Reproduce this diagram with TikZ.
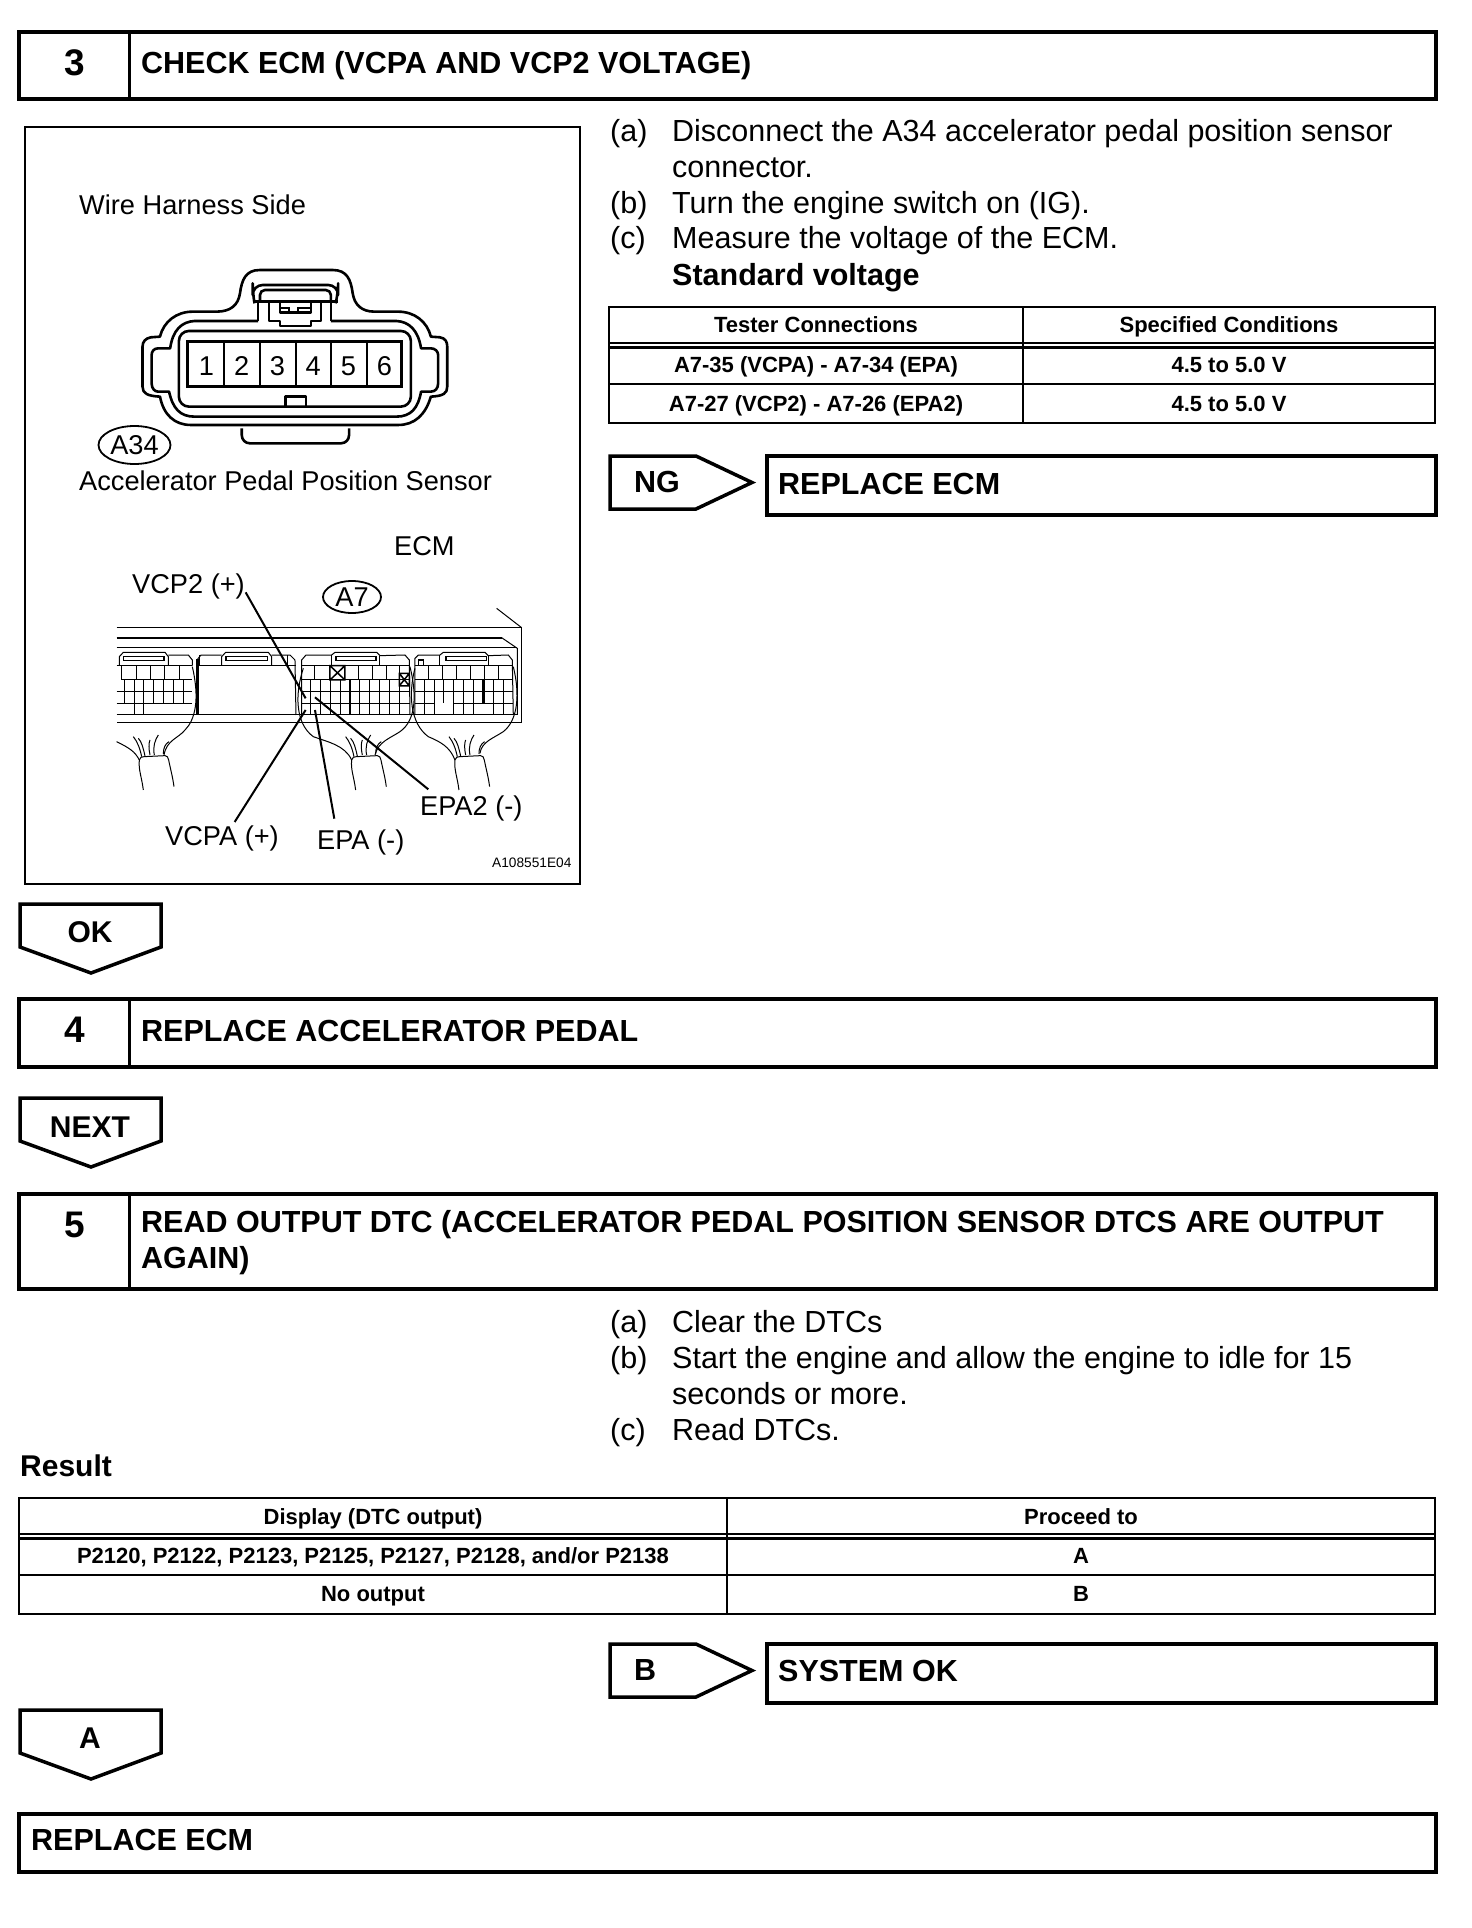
\documentclass[tikz,border=0pt]{standalone}
\usepackage{fontspec}
\setmainfont{Liberation Sans}
\newcommand{\fsz}[1]{\fontsize{#1}{#1}\selectfont}
\tikzset{
 lab/.style={anchor=base west,inner sep=0pt,font=\fsz{27.2}},
 body/.style={anchor=base west,inner sep=0pt,font=\fsz{30.5}},
 boldt/.style={anchor=base west,inner sep=0pt,font=\fsz{30.5}\bfseries},
 boldc/.style={anchor=base,inner sep=0pt,font=\fsz{30}\bfseries},
 numt/.style={anchor=base,inner sep=0pt,font=\fsz{37}\bfseries},
 cellt/.style={anchor=base,inner sep=0pt,font=\fsz{22}\bfseries},
 hbox/.style={draw,line width=4pt},
 tline/.style={draw,line width=2.5pt},
 arrowbox/.style={draw,line width=3.5pt,miter limit=10},
 thin1/.style={line width=1pt},
 conn/.style={line width=2.6pt,line join=round},
 lead/.style={line width=2pt},
 tag/.style={draw,ellipse,line width=1.8pt,inner sep=0pt,minimum width=#1},
}
\usetikzlibrary{shapes.geometric}
\newcommand{\downtag}[3]{% top, shoulder, tip
 \draw[arrowbox] (20,#1) -- (161,#1) -- (161,#2) -- (91,#3) -- (20,#2) -- cycle;}
\newcommand{\righttag}[2]{% top, bottom
 \draw[arrowbox] (610,#1) -- (696,#1) -- (752,{(#1+#2)/2}) -- (696,#2) -- (610,#2) -- cycle;}
\newcommand{\bundle}[1]{%
 \begin{scope}[xshift=#1*0.3333pt]
 \draw[thin1] (118,600) .. controls (115,630) and (125,650) .. (130,690);
 \draw[thin1] (118,600) .. controls (120,592) and (125,590) .. (132,590) -- (195,587) .. controls (202,587) and (204,592) .. (206,600) .. controls (212,630) and (218,650) .. (222,680);
 \draw[thin1] (125,590) .. controls (120,565) and (112,545) .. (100,530);
 \draw[thin1] (135,588) .. controls (130,565) and (125,545) .. (115,535);
 \draw[thin1] (150,585) .. controls (146,565) and (146,550) .. (150,540);
 \draw[thin1] (163,585) .. controls (158,560) and (165,540) .. (175,525);
 \draw[thin1] (190,582) .. controls (190,565) and (195,552) .. (207,545);
 \end{scope}}
\begin{document}
\begin{tikzpicture}[x=1pt,y=-1pt]
\useasboundingbox[fill=white] (0,0) rectangle (1472,1928);

% step 3
\draw[hbox] (19,32) rectangle (1436,99);
\draw[line width=3pt] (129,32) -- (129,99);
\node[numt] (n3) at (75,75) {3};
\node[boldt] (t3) at (141,73) {CHECK ECM (VCPA AND VCP2 VOLTAGE)};

% figure frame
\draw[line width=2.5pt] (25,127) rectangle (580,884);
\node[lab] (wh) at (79,214) {Wire Harness Side};
\node[lab] (aps) at (79,490) {Accelerator Pedal Position Sensor};
\node[tag=72pt,minimum height=38pt,font=\fsz{27.2}] (a34) at (134.5,445) {A34};
\node[lab] (ecm) at (394,555) {ECM};
\node[lab] (vcp2) at (132,593) {VCP2 (+)};
\node[tag=58pt,minimum height=32pt,font=\fsz{27.2}] (a7) at (352,597) {A7};
\node[lab] (epa2) at (420,815) {EPA2 (-)};
\node[lab] (vcpa) at (165,845) {VCPA (+)};
\node[lab] (epa) at (317,849) {EPA (-)};
\node[anchor=base west,inner sep=0pt,font=\fsz{13.7}] (code) at (492,867) {A108551E04};

% connector A34
\begin{scope}[shift={(20,120)},x=0.3636pt,y=-0.3333pt]
 \draw[conn] (660,450) -- (860,450) .. controls (900,450) and (910,480) .. (915,520) .. controls (920,555) and (940,575) .. (975,575) -- (1040,575) .. controls (1085,575) and (1120,605) .. (1130,650) -- (1155,652) .. controls (1170,655) and (1175,665) .. (1175,680) -- (1175,800) .. controls (1175,820) and (1165,828) .. (1130,830) .. controls (1115,885) and (1085,915) .. (1040,915) -- (470,915) .. controls (425,915) and (395,885) .. (385,830) .. controls (350,828) and (337,820) .. (337,800) -- (337,680) .. controls (337,665) and (345,655) .. (360,652) -- (385,650) .. controls (395,605) and (430,575) .. (475,575) -- (540,575) .. controls (580,575) and (600,555) .. (605,520) .. controls (610,480) and (620,450) .. (660,450);
 \draw[conn] (655,603) -- (480,603) .. controls (445,605) and (420,630) .. (413,685) -- (380,685) .. controls (368,685) and (362,695) .. (362,705) -- (362,790) .. controls (362,805) and (370,815) .. (380,815) -- (410,815) .. controls (420,865) and (440,890) .. (480,890) -- (1035,890) .. controls (1075,890) and (1095,865) .. (1103,815) -- (1130,815) .. controls (1142,815) and (1150,805) .. (1150,790) -- (1150,705) .. controls (1150,695) and (1142,685) .. (1130,685) -- (1103,685) .. controls (1095,630) and (1070,605) .. (1035,603) -- (855,603);
 \draw[conn,rounded corners=10pt] (437,633) rectangle (1075,860);
 \draw[line width=3pt] (462,665) rectangle (1050,800);
 \foreach \q in {560,660,760,855,955} \draw[line width=2pt] (\q,665) -- (\q,800);
 \foreach \q/\w in {513/1,610/2,708/3,806/4,903/5,1002/6}
   \node[inner sep=0pt,font=\fsz{27.2}] (pin\w) at (\q,738) {\w};
 \draw[conn] (730,860) -- (730,830) -- (787,830) -- (787,860);
 \draw[conn,rounded corners=8pt] (610,925) -- (610,970) -- (905,970) -- (905,925);
 \draw[conn,rounded corners=10pt] (645,550) -- (640,520) -- (640,495) -- (875,495) -- (875,520) -- (868,550);
 \draw[conn,rounded corners=5pt] (660,545) -- (660,510) -- (855,510) -- (855,545);
 \draw[conn] (640,545) -- (875,545);
 \draw[conn] (655,545) -- (655,603);
 \draw[conn] (855,545) -- (855,603);
 \draw[conn] (685,545) -- (685,603) -- (715,603) -- (715,618) -- (800,618) -- (800,603) -- (828,603) -- (828,545);
 \draw[conn] (715,545) -- (715,578) -- (800,578) -- (800,545);
 \draw[line width=1.8pt] (715,565) -- (740,565) -- (740,578);
 \draw[line width=1.8pt] (765,578) -- (765,565) -- (800,565);
\end{scope}

% ECM
\begin{scope}[shift={(100,560)},x=0.3333pt,y=-0.3333pt]
 % housing
 \draw[thin1] (50,203) -- (1265,203) -- (1265,487) -- (50,487);
 \draw[thin1] (1190,145) -- (1265,203);
 \draw[line width=2pt] (50,233) -- (1205,233);
 \draw[thin1] (1205,233) -- (1252,265) -- (1252,465);
 \draw[thin1] (50,465) -- (1252,465);
 \draw[thin1] (50,262) -- (1252,262);
 % section 1
 \draw[thin1] (58,317) -- (58,290) -- (70,277) -- (195,277) -- (205,290) -- (205,317);
 \draw[line width=1.6pt] (70,290) rectangle (192,302);
 \draw[thin1] (205,285) -- (265,285) -- (277,300) -- (277,317);
 \draw[thin1] (50,317) -- (277,317);
 \foreach \q in {65,110,152,195,238} \draw[thin1] (\q,317) -- (\q,360);
 \draw[thin1] (65,360) -- (275,360);
 \draw[thin1] (50,395) -- (275,395);
 \draw[thin1] (50,430) -- (275,430);
 \foreach \q in {75,103,130,160,190,220,250} \draw[thin1] (\q,360) -- (\q,430);
 \foreach \q in {103,130} \draw[thin1] (\q,430) -- (\q,465);
 \draw[thin1] (277,320) .. controls (300,420) and (285,480) .. (255,510) .. controls (235,535) and (200,540) .. (192,585);
 \draw[thin1] (50,545) .. controls (90,565) and (105,575) .. (118,600);
 % section 2
 \draw[line width=2.5pt] (293,297) -- (293,465);
 \draw[thin1] (293,297) -- (303,285) -- (365,285);
 \draw[thin1] (300,285) -- (300,317);
 \draw[thin1] (365,317) -- (365,290) -- (377,277) -- (505,277) -- (515,290) -- (515,317);
 \draw[line width=1.6pt] (378,290) rectangle (503,302);
 \draw[thin1] (515,285) -- (570,285) -- (585,300) -- (588,465);
 \draw[thin1] (562,285) -- (562,317);
 \draw[thin1] (300,317) -- (587,317);
 % section 3
 \draw[thin1] (605,465) -- (605,300) -- (618,285) -- (695,285) -- (705,277) -- (830,277) -- (840,287) -- (915,285) -- (928,300) -- (930,465);
 \draw[thin1] (695,285) -- (695,317);
 \draw[thin1] (840,287) -- (840,317);
 \draw[line width=1.6pt] (708,290) rectangle (828,302);
 \draw[thin1] (605,317) -- (928,317);
 \foreach \q in {645,735,775,817,860} \draw[thin1] (\q,317) -- (\q,360);
 \draw[line width=1.5pt] (690,317) rectangle (735,360) (690,360) -- (735,317) (690,317) -- (735,360);
 \draw[line width=1.5pt] (898,340) rectangle (928,378) (898,340) -- (928,378) (898,378) -- (928,340);
 \draw[thin1] (898,317) -- (898,340);
 \draw[thin1] (605,360) -- (930,360);
 \draw[thin1] (605,395) -- (930,395);
 \draw[thin1] (605,430) -- (930,430);
 \foreach \q in {633,662,693,722,780,810,840,870,900} \draw[thin1] (\q,360) -- (\q,465);
 \draw[line width=2.5pt] (750,360) -- (750,465);
 \draw[thin1] (610,325) .. controls (585,400) and (585,490) .. (640,530) .. controls (680,545) and (735,555) .. (755,600);
 \draw[thin1] (930,320) .. controls (950,400) and (950,480) .. (900,515) .. controls (870,535) and (835,545) .. (825,585);
 % section 4
 \draw[thin1] (945,465) -- (945,295) -- (955,285) -- (1020,285) -- (1030,277) -- (1155,277) -- (1165,287) -- (1225,285) -- (1237,300) -- (1240,465);
 \draw[thin1] (1020,285) -- (1020,317);
 \draw[thin1] (1165,287) -- (1165,317);
 \draw[line width=1.6pt] (1038,290) rectangle (1160,302);
 \draw[line width=1.6pt] (955,300) rectangle (970,317);
 \draw[thin1] (945,317) -- (1240,317);
 \foreach \q in {985,1028,1070,1112,1153,1195} \draw[thin1] (\q,317) -- (\q,360);
 \draw[thin1] (945,360) -- (1240,360);
 \draw[thin1] (945,395) -- (1240,395);
 \draw[thin1] (945,430) -- (1005,430) (1060,430) -- (1240,430);
 \foreach \q in {975,1005,1030,1060,1090,1120,1180,1210} \draw[thin1] (\q,360) -- (\q,430);
 \foreach \q in {975,1005,1060,1090,1120,1180,1210} \draw[thin1] (\q,430) -- (\q,465);
 \draw[line width=2.5pt] (1150,360) -- (1150,430);
 \draw[thin1] (945,325) .. controls (925,400) and (930,490) .. (985,530) .. controls (1020,545) and (1050,560) .. (1065,600);
 \draw[thin1] (1240,320) .. controls (1260,400) and (1255,480) .. (1210,515) .. controls (1180,535) and (1145,545) .. (1140,580);
 \bundle{0}\bundle{637}\bundle{947}
 % leader ends
 \coordinate (v2a) at (437,97);
 \coordinate (v2b) at (617,415);
 \coordinate (vpa) at (404,786);
 \coordinate (vpb) at (617,450);
 \coordinate (epaa) at (703,776);
 \coordinate (epab) at (645,450);
 \coordinate (ep2a) at (985,688);
 \coordinate (ep2b) at (645,412);
\end{scope}
\draw[lead] (v2a) -- (v2b);
\draw[lead] (vpa) -- (vpb);
\draw[lead] (epaa) -- (epab);
\draw[lead] (ep2a) -- (ep2b);

% right text
\node[body] (a1) at (610,141) {(a)};
\node[body] (a1t) at (672,141) {Disconnect the A34 accelerator pedal position sensor};
\node[body] (a1u) at (672,177) {connector.};
\node[body] (b1) at (610,213) {(b)};
\node[body] (b1t) at (672,213) {Turn the engine switch on (IG).};
\node[body] (c1) at (610,248.5) {(c)};
\node[body] (c1t) at (672,248.5) {Measure the voltage of the ECM.};
\node[boldt] (sv) at (672,285) {Standard voltage};

% table 1
\draw[tline] (609,307) rectangle (1435,423);
\draw[tline] (1023,307) -- (1023,423);
\draw[tline] (609,343) -- (1435,343);
\draw[tline] (609,347.5) -- (1435,347.5);
\draw[tline] (609,384) -- (1435,384);
\node[cellt] (h11) at (816,332) {Tester Connections};
\node[cellt] (h12) at (1229,332) {Specified Conditions};
\node[cellt] (c11) at (816,372) {A7-35 (VCPA) - A7-34 (EPA)};
\node[cellt] (c12) at (1229,372) {4.5 to 5.0 V};
\node[cellt] (c21) at (816,411) {A7-27 (VCP2) - A7-26 (EPA2)};
\node[cellt] (c22) at (1229,411) {4.5 to 5.0 V};

% NG
\righttag{456}{509}
\node[boldt] (ng) at (634,492) {NG};
\draw[hbox] (767,456) rectangle (1436,515);
\node[boldt] (rep1) at (778,494) {REPLACE ECM};

% OK
\downtag{904}{947}{973}
\node[boldc] (ok) at (90,942) {OK};

% step 4
\draw[hbox] (19,999) rectangle (1436,1067);
\draw[line width=3pt] (129,999) -- (129,1067);
\node[numt] (n4) at (75,1042) {4};
\node[boldt] (t4) at (141,1041) {REPLACE ACCELERATOR PEDAL};

% NEXT
\downtag{1098}{1141}{1167}
\node[boldc] (nx) at (90,1137) {NEXT};

% step 5
\draw[hbox] (19,1194) rectangle (1436,1289);
\draw[line width=3pt] (129,1194) -- (129,1289);
\node[numt] (n5) at (75,1237) {5};
\node[boldt] (t5) at (141,1232) {READ OUTPUT DTC (ACCELERATOR PEDAL POSITION SENSOR DTCS ARE OUTPUT};
\node[boldt] (t5b) at (141,1268) {AGAIN)};

\node[body] (a2) at (610,1332) {(a)};
\node[body] (a2t) at (672,1332) {Clear the DTCs};
\node[body] (b2) at (610,1368) {(b)};
\node[body] (b2t) at (672,1368) {Start the engine and allow the engine to idle for 15};
\node[body] (b2u) at (672,1404) {seconds or more.};
\node[body] (c2) at (610,1440) {(c)};
\node[body] (c2t) at (672,1440) {Read DTCs.};
\node[boldt,font=\fsz{30}\bfseries] (res) at (20,1476) {Result};

% table 2
\draw[tline] (19,1498) rectangle (1435,1614);
\draw[tline] (727,1498) -- (727,1614);
\draw[tline] (19,1534) -- (1435,1534);
\draw[tline] (19,1538.5) -- (1435,1538.5);
\draw[tline] (19,1575) -- (1435,1575);
\node[cellt] (h21) at (373,1524) {Display (DTC output)};
\node[cellt] (h22) at (1081,1524) {Proceed to};
\node[cellt] (d11) at (373,1563) {P2120, P2122, P2123, P2125, P2127, P2128, and/or P2138};
\node[cellt] (d12) at (1081,1563) {A};
\node[cellt] (d21) at (373,1601) {No output};
\node[cellt] (d22) at (1081,1601) {B};

% B
\righttag{1644}{1697}
\node[boldt] (bb) at (634,1680) {B};
\draw[hbox] (767,1644) rectangle (1436,1703);
\node[boldt] (sok) at (778,1681) {SYSTEM OK};

% A
\downtag{1710}{1753}{1779}
\node[boldc] (aa) at (90,1748) {A};

% final
\draw[hbox] (19,1814) rectangle (1436,1872);
\node[boldt] (rep2) at (31,1850) {REPLACE ECM};
\end{tikzpicture}
\end{document}
